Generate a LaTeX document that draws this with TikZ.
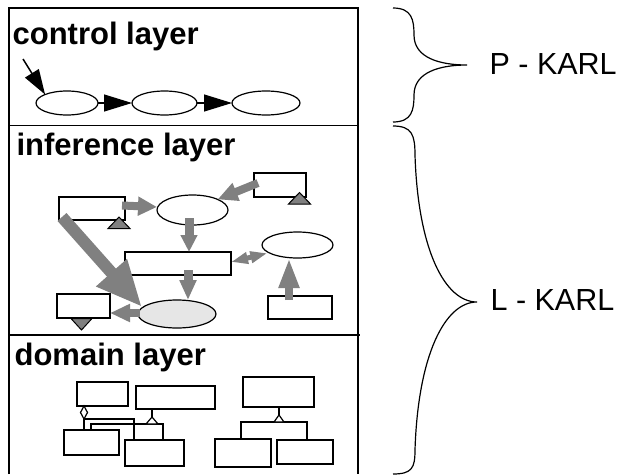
\documentclass[tikz,border=0pt]{standalone}
\usepackage{fontspec}
\setmainfont{Liberation Sans}
\usetikzlibrary{arrows.meta,shapes.geometric,calc}
\definecolor{arrowgray}{HTML}{808080}
\definecolor{softgray}{HTML}{E6E6E6}

\begin{document}
\begin{tikzpicture}[x=1pt,y=-1pt,
  line width=1.2pt,
  box/.style={draw, rectangle, inner sep=0pt, outer sep=0pt},
  oval/.style={draw, ellipse, inner sep=0pt, outer sep=0pt},
  layertitle/.style={anchor=base west, inner sep=0pt, font=\fontsize{31}{36}\selectfont\bfseries},
  karl/.style={anchor=base west, inner sep=0pt, font=\fontsize{30.5}{36}\selectfont},
  flow/.style={draw=black, line width=1.2pt, -{Triangle[length=28pt,width=17pt]}},
  gflow/.style={draw=arrowgray, line width=8pt, -{Triangle[length=19pt,width=18pt]}},
  marker/.style={draw=black, fill=arrowgray, line width=1pt},
  hollow/.style={draw=black, fill=white, line width=1.2pt},
]
\useasboundingbox (0,0) rectangle (626,474);

% layer frame
\draw (9,474) -- (9,8) -- (358,8) -- (358,474);
\draw (9,125.5) -- (358,125.5);
\draw (9,335) -- (360,335);

% titles
\node[layertitle] (tc) at (12,44) {control layer};
\node[layertitle] (ti) at (16,155) {inference layer};
\node[layertitle] (td) at (14,365) {domain layer};

% ---------------- control layer ----------------
\node[oval, minimum width=62pt, minimum height=24pt] (c1) at (67,103) {};
\node[oval, minimum width=65pt, minimum height=24pt] (c2) at (164.5,103) {};
\node[oval, minimum width=68pt, minimum height=24pt] (c3) at (266,103) {};
\coordinate (cin) at (23,59);
\draw[flow, line width=1.5pt, -{Triangle[length=25pt,width=16pt]}] (cin) -- (c1.north west);
\draw[flow] (c1.east) -- (c2.west);
\draw[flow] (c2.east) -- (c3.west);

% ---------------- inference layer ----------------
\node[box, minimum width=66pt, minimum height=23pt] (A) at (92,208.5) {};
\node[oval, minimum width=71pt, minimum height=30pt] (B) at (192.5,210) {};
\node[box, minimum width=52pt, minimum height=24pt] (C) at (280,185) {};
\node[oval, minimum width=71pt, minimum height=26pt] (D) at (297.5,245) {};
\node[box, minimum width=106pt, minimum height=23pt] (E) at (178,263.5) {};
\node[oval, fill=softgray, minimum width=78pt, minimum height=28pt] (F) at (177,314) {};
\node[box, minimum width=53pt, minimum height=24pt] (G) at (83.5,306) {};
\node[box, minimum width=64pt, minimum height=23pt] (H) at (300,307.5) {};

% markers on the role boxes
\draw[marker] (119,217) -- (130,228.5) -- (108,228.5) -- cycle;
\draw[marker] (299.5,192.5) -- (310.5,204) -- (288.5,204) -- cycle;
\draw[marker] (71,318.5) -- (92,318.5) -- (81.5,330) -- cycle;

% data flow
\draw[gflow] ($(A.east)+(-3,-3)$) -- ($(B.west)+(0,-3)$);
\draw[gflow, -{Triangle[length=20pt,width=18pt]}] ($(C.west)+(4,-2)$) -- (B.north east);
\draw[gflow, line width=9pt, -{Triangle[length=17pt,width=16pt]}] ($(B.south)+(-3.5,-7)$) coordinate (be) -- (be |- E.north);
\draw[gflow, line width=9pt, -{Triangle[length=20pt,width=16pt]}] ($(E.south)+(10,-5)$) coordinate (ef) -- (ef |- F.north);
\draw[gflow, -{Triangle[length=20pt,width=17pt]}] ($(F.west)+(2,-1)$) -- ($(G.south east)+(0,-5)$);
\draw[gflow, -{Triangle[length=30pt,width=19pt]}] ($(H.north)+(-11,4)$) coordinate (hd) -- (hd |- D.south);
\draw[gflow, line width=12pt, -{Triangle[length=46pt,width=38pt]}] ($(A.south west)+(3,-3)$) -- ($(F.west)+(4,-7)$);
\draw[draw=arrowgray, line width=5pt, {Triangle[length=17pt,width=11pt]}-{Triangle[length=17pt,width=11pt]}]
  ($(E.east)+(0,-1.5)$) -- ($(D.south west)+(-5,-1)$);

% ---------------- domain layer ----------------
\node[box, minimum width=51pt, minimum height=24pt] (d1) at (102.5,394) {};
\node[box, minimum width=79pt, minimum height=23pt] (d2) at (175.5,397.5) {};
\node[box, minimum width=55pt, minimum height=25pt] (d3) at (91.5,442.5) {};
\node[box, minimum width=59pt, minimum height=26pt] (d4) at (154.5,453) {};
\node[box, minimum width=71pt, minimum height=30pt] (d5) at (278.5,392) {};
\node[box, minimum width=56pt, minimum height=28pt] (d6) at (243,453) {};
\node[box, minimum width=56pt, minimum height=24pt] (d7) at (305,452) {};

% aggregation from d1
\coordinate (dg) at ($(d1.south west)+(7,0)$);
\draw ($(dg)+(0,13)$) -- (d3.north -| dg);
\draw ($(dg)+(0,13)$) -| ($(d4.north west)+(9,0)$);
\draw[hollow] (dg) -- ++(3.5,6.5) -- ++(-3.5,6.5) -- ++(-3.5,-6.5) -- cycle;

% generalisation below d2
\draw ($(d2.south west)+(16,0)$) -- ++(0,8) coordinate (i1);
\draw ($(d3.north west)+(27,0)$) |- ($(i1)+(0,7)$) -| ($(d4.north west)+(38,0)$);
\draw[hollow] (i1) -- ++(6,7) -- ++(-12,0) -- cycle;

% generalisation below d5
\draw ($(d5.south west)+(36,0)$) -- ++(0,8) coordinate (i2);
\draw ($(d6.north west)+(26,0)$) |- ($(i2)+(0,7)$) -| ($(d7.north west)+(30,0)$);
\draw[hollow] (i2) -- ++(5,7) -- ++(-10,0) -- cycle;

% ---------------- braces ----------------
\draw (393,8) .. controls (412,8) and (414,20) .. (414,35)
  .. controls (414,58) and (440,65) .. (467,65)
  .. controls (440,65) and (414,72) .. (414,95)
  .. controls (414,110) and (412,122) .. (393,122);
\draw (393,126) .. controls (412,126) and (415,135) .. (415,155)
  .. controls (418,250) and (445,302) .. (477,302)
  .. controls (445,302) and (418,355) .. (415,450)
  .. controls (415,468) and (412,474) .. (393,474);
\node[karl] (pk) at (489,74) {P - KARL};
\node[karl] (lk) at (490,310) {L - KARL};
\end{tikzpicture}
\end{document}
